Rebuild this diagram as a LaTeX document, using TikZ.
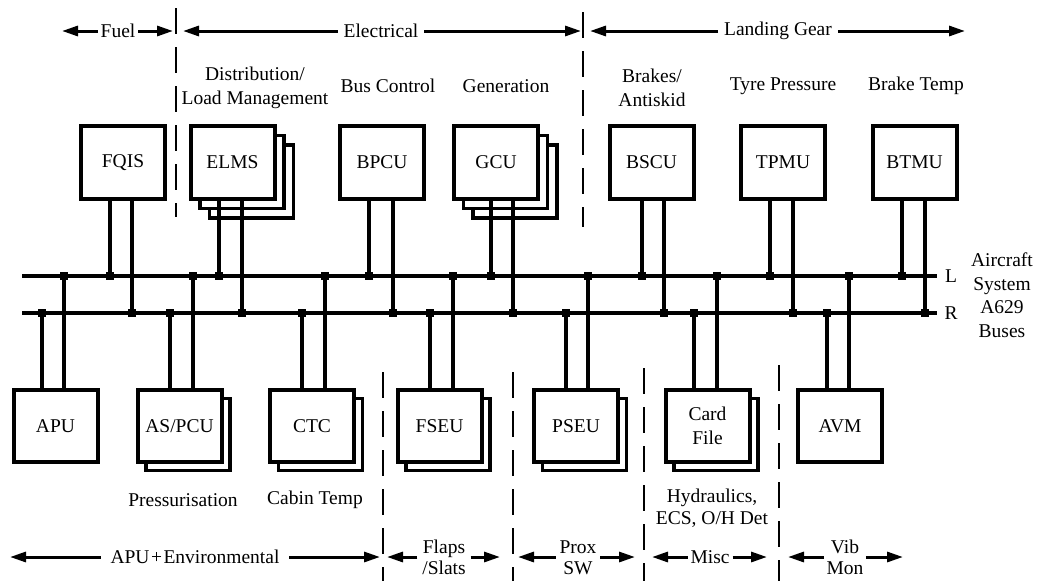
\documentclass[tikz,border=0pt]{standalone}
\usepackage{fontspec}
\setmainfont{Liberation Serif}
\usetikzlibrary{arrows.meta,backgrounds}
\begin{document}
\begin{tikzpicture}[x=1pt,y=-1pt,
  every node/.style={font=\fontsize{19.5}{23.5}\selectfont, inner sep=0pt, outer sep=0pt},
  box/.style={draw, line width=4pt, fill=white, minimum width=84pt, minimum height=73pt, align=center},
  shadowbox/.style={draw, line width=3.6pt, fill=white},
  bus/.style={line width=3.2pt},
  stub/.style={line width=3.2pt},
  jn/.style={fill=black, minimum size=8.5pt},
  arr/.style={line width=3pt, -{Triangle[length=16pt,width=10pt]}},
  sepline/.style={line width=2.6pt, dash pattern=on 26pt off 13pt},
  lbl/.style={align=center},
]
\useasboundingbox (0,0) rectangle (1038,581);

% ---------- top group arrows ----------
\node[inner xsep=3pt] (fuel) at (118,31) {Fuel};
\coordinate (fuelA) at (62,31); \coordinate (fuelB) at (173,31);
\draw[arr] (fuel) -- (fuelA); \draw[arr] (fuel) -- (fuelB);

\node[inner xsep=6pt] (elec) at (381,31) {Electrical};
\coordinate (elecA) at (183,31); \coordinate (elecB) at (581,31);
\draw[arr] (elec) -- (elecA); \draw[arr] (elec) -- (elecB);

\node[inner xsep=6pt] (lg) at (778,31) {Landing Gear};
\coordinate (lgA) at (590,31); \coordinate (lgB) at (965,31);
\draw[arr] (lg) -- (lgA); \draw[arr] (lg) -- (lgB);

\coordinate (d1t) at (176,8); \coordinate (d1b) at (176,217);
\coordinate (d2t) at (583,12); \coordinate (d2b) at (583,227);
\draw[sepline] (d1t) -- (d1b);
\draw[sepline] (d2t) -- (d2b);

% ---------- top function labels ----------
\node[lbl] (tDist) at (255,88) {Distribution/\\Load Management};
\node (tBus) at (388,86) {Bus Control};
\node (tGen) at (506,86) {Generation};
\node[lbl] (tBrk) at (652,88) {Brakes/\\Antiskid};
\node (tTyre) at (783,86) {Tyre Pressure};
\node (tBT) at (916,86) {Brake Temp};

% ---------- top boxes ----------
\node[box] (fqis) at (123,162.5) {FQIS};
\node[box] (elms) at (232.5,162.5) {ELMS};
\node[box] (bpcu) at (382,162.5) {BPCU};
\node[box] (gcu) at (496,162.5) {GCU};
\node[box] (bscu) at (651.5,162.5) {BSCU};
\node[box] (tpmu) at (783,162.5) {TPMU};
\node[box] (btmu) at (914.5,162.5) {BTMU};

% ---------- bottom boxes ----------
\node[box, minimum height=72pt] (apu) at (55.5,426) {APU};
\node[box, minimum height=72pt] (aspcu) at (179.5,426) {AS/PCU};
\node[box, minimum height=72pt] (ctc) at (312,426) {CTC};
\node[box, minimum height=72pt] (fseu) at (439.5,426) {FSEU};
\node[box, minimum height=72pt] (pseu) at (576,426) {PSEU};
\node[box, minimum height=72pt] (card) at (707.5,426) {Card\\File};
\node[box, minimum height=72pt] (avm) at (840,426) {AVM};

% ---------- stacked copies ----------
\begin{scope}[on background layer]
  \foreach \b in {elms,gcu}{
    \draw[shadowbox] ([shift={(19,19)}]\b.north west) rectangle ([shift={(19,19)}]\b.south east);
    \draw[shadowbox] ([shift={(9.5,9.5)}]\b.north west) rectangle ([shift={(9.5,9.5)}]\b.south east);
  }
  \foreach \b in {aspcu,ctc,fseu,pseu,card}{
    \draw[shadowbox] ([shift={(8.5,8.5)}]\b.north west) rectangle ([shift={(8.5,8.5)}]\b.south east);
  }
\end{scope}

% ---------- buses ----------
\coordinate (Lw) at (22,276); \coordinate (Le) at (937,276);
\coordinate (Rw) at (22,313); \coordinate (Re) at (937,313);
\draw[bus] (Lw) -- (Le);
\draw[bus] (Rw) -- (Re);
\node (Llbl) at (951,276) {L};
\node (Rlbl) at (951,313) {R};
\node[lbl] (buses) at (1002,295) {Aircraft\\System\\A629\\Buses};

% ---------- junctions ----------
\foreach \n/\x in {fqisL/110, elmsL/219, bpcuL/369, gcuL/491, bscuL/642, tpmuL/770, btmuL/902,
                   apuL/64, aspcuL/193, ctcL/325, fseuL/453, pseuL/588, cardL/717, avmL/849}
  \node[jn] (\n) at (\x,276) {};
\foreach \n/\x in {fqisR/132, elmsR/242, bpcuR/393, gcuR/513, bscuR/664, tpmuR/793, btmuR/925,
                   apuR/42, aspcuR/170, ctcR/302, fseuR/430, pseuR/566, cardR/694, avmR/827}
  \node[jn] (\n) at (\x,313) {};

% ---------- stubs ----------
\foreach \b in {fqis,elms,bpcu,gcu,bscu,tpmu,btmu}{
  \draw[stub] (\b.south -| \b L) -- (\b L.center);
  \draw[stub] (\b.south -| \b R) -- (\b R.center);
}
\foreach \b in {apu,aspcu,ctc,fseu,pseu,card,avm}{
  \draw[stub] (\b.north -| \b L) -- (\b L.center);
  \draw[stub] (\b.north -| \b R) -- (\b R.center);
}
% junction squares on top
\foreach \n in {fqisL,elmsL,bpcuL,gcuL,bscuL,tpmuL,btmuL,apuL,aspcuL,ctcL,fseuL,pseuL,cardL,avmL,
                fqisR,elmsR,bpcuR,gcuR,bscuR,tpmuR,btmuR,apuR,aspcuR,ctcR,fseuR,pseuR,cardR,avmR}
  \fill ([shift={(-4.3,-4.3)}]\n.center) rectangle ([shift={(4.3,4.3)}]\n.center);

% ---------- bottom function labels ----------
\node (bPress) at (183,500) {Pressurisation};
\node (bCabin) at (315,500) {Cabin Temp};
\node[lbl, font=\fontsize{19.5}{22}\selectfont] (bHyd) at (712,508) {Hydraulics,\\ECS, O/H Det};

% ---------- bottom separators ----------
\foreach \n/\x/\y in {s1/383/372, s2/513/372, s3/644/368, s4/779/365}{
  \coordinate (\n t) at (\x,\y); \coordinate (\n b) at (\x,581);
  \draw[sepline] (\n t) -- (\n b);
}

% ---------- bottom group arrows ----------
\node[inner xsep=10pt] (apuenv) at (195,557) {APU\kern1.5pt+\kern1.5pt Environmental};
\coordinate (aeA) at (10,557); \coordinate (aeB) at (380,557);
\draw[arr] (apuenv) -- (aeA); \draw[arr] (apuenv) -- (aeB);

\node[lbl, inner xsep=5pt, font=\fontsize{19.5}{21}\selectfont] (flaps) at (444,557.5) {Flaps\\/Slats};
\coordinate (flA) at (387,557); \coordinate (flB) at (500,557);
\draw[arr] (flaps.west |- flA) -- (flA); \draw[arr] (flaps.east |- flB) -- (flB);

\node[lbl, inner xsep=4pt, font=\fontsize{19.5}{21}\selectfont] (prox) at (578,557.5) {Prox\\SW};
\coordinate (prA) at (518,557); \coordinate (prB) at (635,557);
\draw[arr] (prox.west |- prA) -- (prA); \draw[arr] (prox.east |- prB) -- (prB);

\node[inner xsep=3pt] (misc) at (710,557) {Misc};
\coordinate (miA) at (652,557); \coordinate (miB) at (767,557);
\draw[arr] (misc) -- (miA); \draw[arr] (misc) -- (miB);

\node[lbl, inner xsep=2.5pt, font=\fontsize{19.5}{21}\selectfont] (vib) at (845,557.5) {Vib\\Mon};
\coordinate (viA) at (788,557); \coordinate (viB) at (903,557);
\draw[arr] (vib.west |- viA) -- (viA); \draw[arr] (vib.east |- viB) -- (viB);
\end{tikzpicture}
\end{document}
